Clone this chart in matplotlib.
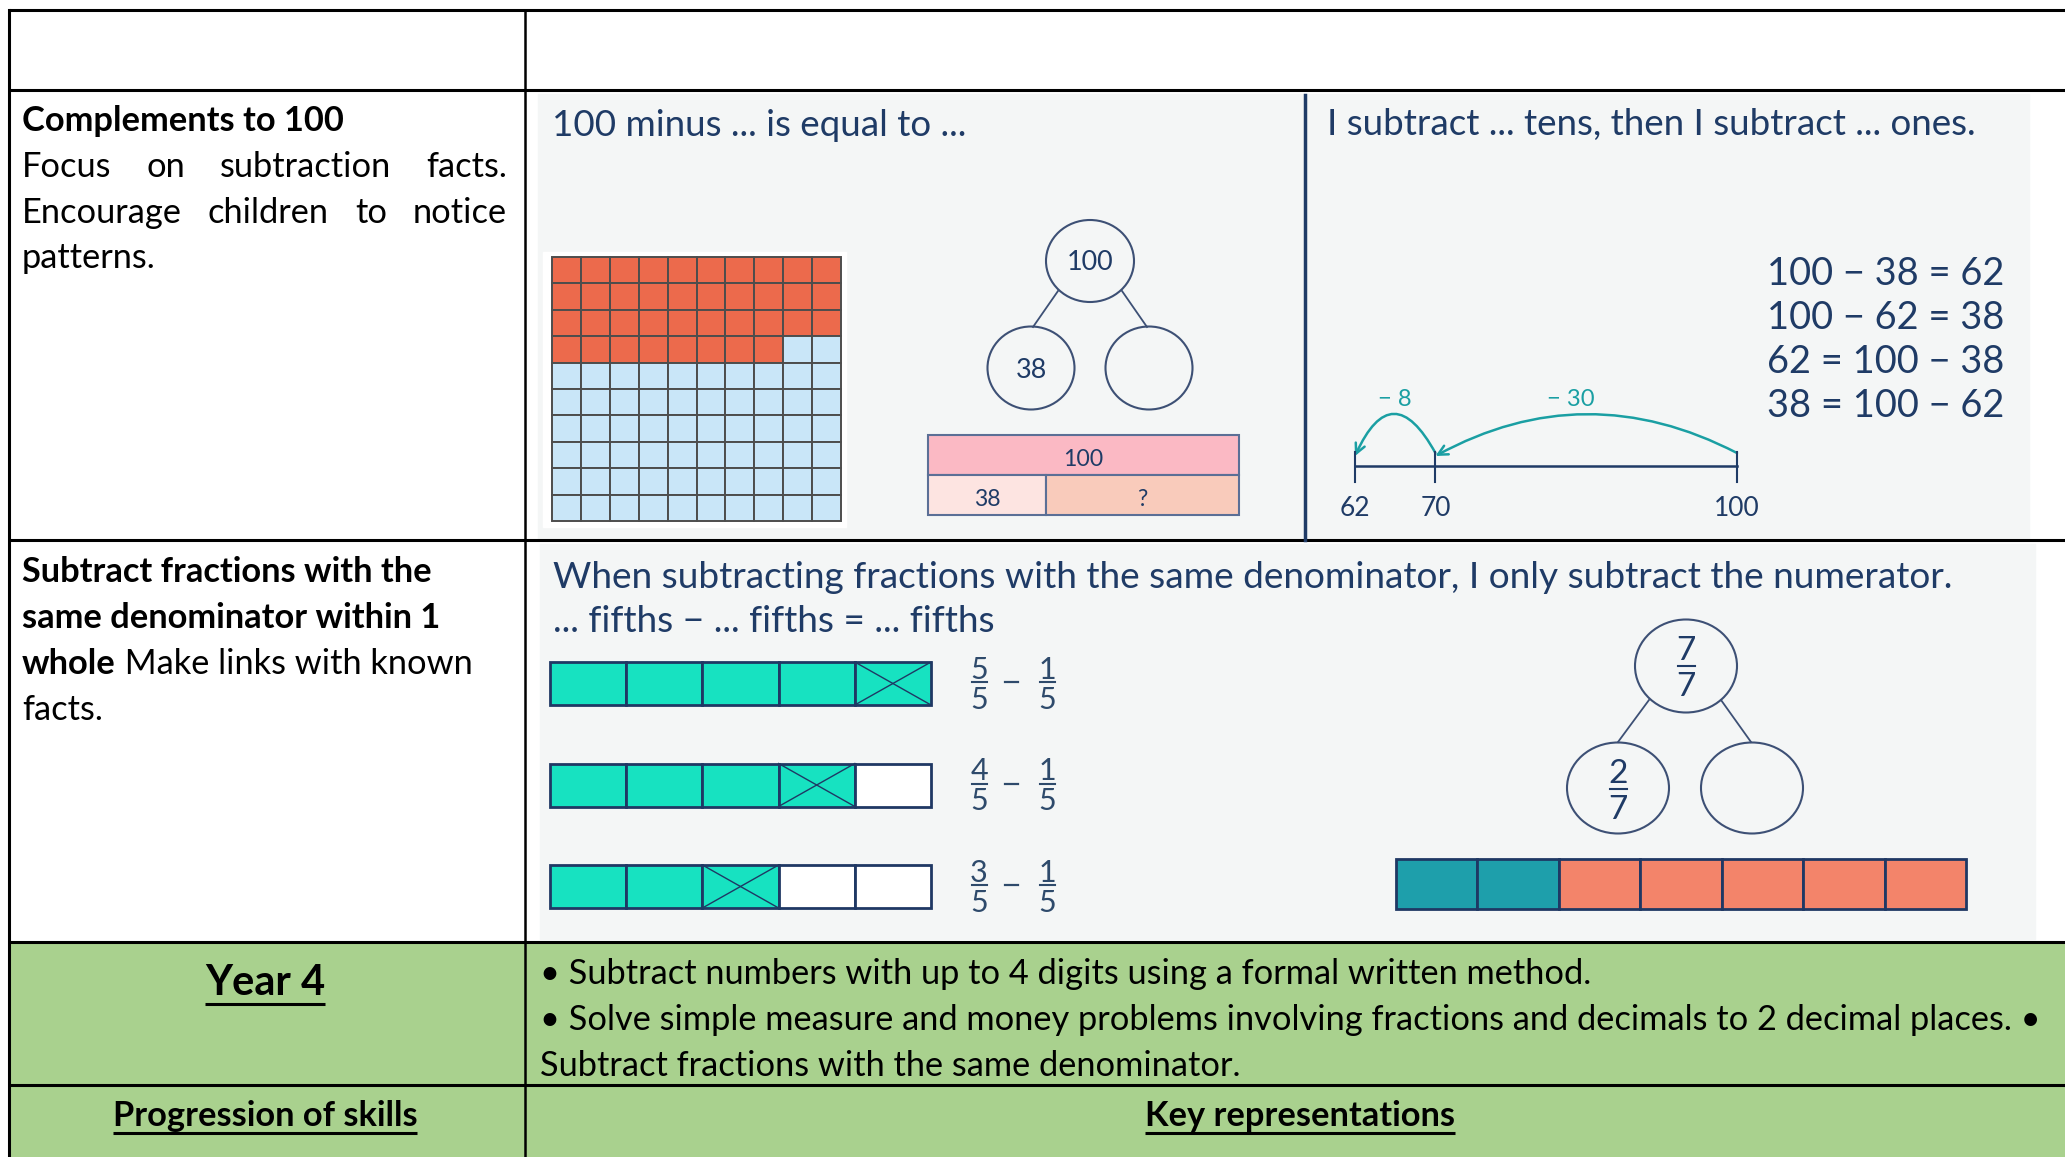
import matplotlib
matplotlib.use('Agg')
import matplotlib.pyplot as plt
from matplotlib.patches import Rectangle, Ellipse, FancyArrowPatch

# ---- chart content -------------------------------------------------------
hundred_total = 100
hundred_taken = 38
hundred_left = hundred_total - hundred_taken
line_marks = [62, 70, 100]
jump_labels = ['\u2212 8', '\u2212 30']
equations = ['100 \u2212 38 = 62', '100 \u2212 62 = 38',
             '62 = 100 \u2212 38', '38 = 100 \u2212 62']
frac_den = 5
frac_start = [5, 4, 3]
frac_take = 1
sevenths_total = 7
sevenths_part = 2

row2_title = 'Complements to 100'
row2_body = [['Focus', 'on', 'subtraction', 'facts.'],
             ['Encourage', 'children', 'to', 'notice']]
row2_last = 'patterns.'
row3_bold = ['Subtract fractions with the', 'same denominator within 1']
row3_mixed = ('whole', ' Make links with known')
row3_last = 'facts.'
head_left = '100 minus ... is equal to ...'
head_right = 'I subtract ... tens, then I subtract ... ones.'
frac_head1 = 'When subtracting fractions with the same denominator, I only subtract the numerator.'
frac_head2 = '... fifths \u2212 ... fifths = ... fifths'
year_title = 'Year 4'
year_points = ['\u2022 Subtract numbers with up to 4 digits using a formal written method.',
               '\u2022 Solve simple measure and money problems involving fractions and decimals to 2 decimal places. \u2022',
               'Subtract fractions with the same denominator.']
footer = ['Progression of skills', 'Key representations']

# ---- styling -------------------------------------------------------------
W, H, DPI = 2065, 1157, 100
FONT = ['Lato', 'DejaVu Sans']
NAVY = '#1f3b66'
EDGE = '#3d5075'
TEAL = '#1a9fa3'
GREY = '#f4f6f6'
GREEN = '#a9d18e'
DY = 3  # small nudge so text sits like the original

fig = plt.figure(figsize=(W / DPI, H / DPI), dpi=DPI)
ax = fig.add_axes([0, 0, 1, 1])
ax.set_xlim(0, W)
ax.set_ylim(H, 0)
ax.axis('off')
rend = fig.canvas.get_renderer()


def txt(x, y, s, size=20, ha='left', **kw):
    kw.setdefault('family', FONT)
    return ax.text(x, y + DY, s, ha=ha, va='center', fontsize=size, **kw)


def width(t):
    return t.get_window_extent(rend).width


def fit(x, y, s, w, ha='left', **kw):
    # pick the font size so the text spans the measured width
    t = txt(x, y, s, 20, ha, **kw)
    size = 20 * w / width(t)
    t.set_fontsize(size)
    return t, size


def justify(words, x0, x1, y, size, **kw):
    ts = [txt(0, y, w_, size, **kw) for w_ in words]
    ws = [width(t) for t in ts]
    gap = (x1 - x0 - sum(ws)) / (len(ws) - 1)
    x = x0
    for t, w_ in zip(ts, ws):
        t.set_x(x)
        x += w_ + gap


def underline(t, dy):
    bb = t.get_window_extent(rend)
    y = t.get_position()[1] + dy
    ax.plot([bb.x0, bb.x1], [y, y], color='black', lw=2.2, solid_capstyle='butt')


def frac(x, y, num, den, size, color, gap, barw):
    txt(x, y - gap, str(num), size, 'center', color=color)
    txt(x, y + gap, str(den), size, 'center', color=color)
    ax.plot([x - barw / 2, x + barw / 2], [y, y], color=color, lw=1.5)


# ---- table frame ---------------------------------------------------------
rows = [10, 90, 540, 942, 1085]
col_l, col_m = 9, 525
ax.add_patch(Rectangle((col_l, rows[3]), W - col_l, H - rows[3], color=GREEN, zorder=0))
ax.add_patch(Rectangle((538, 94), 1491, 446, color=GREY, zorder=0))
ax.add_patch(Rectangle((540, 544), 1495, 395, color=GREY, zorder=0))
for y in rows:
    ax.plot([col_l, W], [y, y], color='black', lw=2.2, solid_capstyle='butt')
for x in (col_l, col_m):
    ax.plot([x, x], [rows[0], H], color='black', lw=2.2 if x == col_l else 1.8)
ax.plot([1305, 1305], [95, 540], color=NAVY, lw=2.5)

# ---- left column text ----------------------------------------------------
t, body = fit(22, 118, row2_title, 322, weight='bold')
justify(row2_body[0], 22, 507, 164, body)
justify(row2_body[1], 22, 507, 210, body)
txt(22, 255, row2_last, body)
for i, s in enumerate(row3_bold):
    txt(22, 569 + 46 * i, s, body, weight='bold')
t = txt(22, 661, row3_mixed[0], body, weight='bold')
txt(22 + width(t), 661, row3_mixed[1], body)
txt(22, 707, row3_last, body)

# ---- complements to 100 --------------------------------------------------
_, hsize = fit(552, 122, head_left, 415, color=NAVY)
txt(1327, 122, head_right, hsize, color=NAVY)

# hundred square
gx, gy, cw, ch = 552, 257, 28.9, 26.4
ax.add_patch(Rectangle((gx - 9, gy - 5), cw * 10 + 14, ch * 10 + 11, color='white', zorder=1))
for i in range(hundred_total):
    r, c = divmod(i, 10)
    ax.add_patch(Rectangle((gx + c * cw, gy + r * ch), cw, ch,
                           facecolor='#ec6a4c' if i < hundred_taken else '#c9e6f8',
                           edgecolor='#4d4d4d', lw=1.4, zorder=2))

# part-whole model
top, kids = (1090, 261), [(1031, 368), (1149, 368)]
ax.add_patch(Ellipse(top, 88, 82, fill=False, ec=EDGE, lw=1.5))
for k in kids:
    ax.add_patch(Ellipse(k, 87, 83, fill=False, ec=EDGE, lw=1.5))
ax.plot([1058, 1033], [291, 327], color=EDGE, lw=1.3)
ax.plot([1122, 1147], [291, 327], color=EDGE, lw=1.3)
_, nsize = fit(1090, 259, str(hundred_total), 47, 'center', color=NAVY)
txt(1031, 368, str(hundred_taken), nsize, 'center', color=NAVY)

# bar model
bx, bw = 928, 311
split = bx + bw * hundred_taken / hundred_total
ax.add_patch(Rectangle((bx, 435), bw, 40, fc='#fbb9c4', ec='#5b6f96', lw=1.5))
ax.add_patch(Rectangle((bx, 475), split - bx, 40, fc='#fde4e1', ec='#5b6f96', lw=1.5))
ax.add_patch(Rectangle((split, 475), bx + bw - split, 40, fc='#f9cbbb', ec='#5b6f96', lw=1.5))
_, msize = fit(bx + bw / 2, 456, str(hundred_total), 40, 'center', color=NAVY)
txt((bx + split) / 2, 496, str(hundred_taken), msize, 'center', color=NAVY)
txt((split + bx + bw) / 2, 496, '?', msize, 'center', color=NAVY)

# number line
lx0, lx1 = 1355, 1737
def nx(v):
    return lx0 + (v - line_marks[0]) / (line_marks[-1] - line_marks[0]) * (lx1 - lx0)
ax.plot([lx0, lx1], [466, 466], color=NAVY, lw=1.8)
_, lsize = fit(nx(line_marks[-1]), 506, str(line_marks[-1]), 46, 'center', color=NAVY)
for v in line_marks:
    ax.plot([nx(v), nx(v)], [452, 482], color=NAVY, lw=1.5)
    if v != line_marks[-1]:
        txt(nx(v), 506, str(v), lsize, 'center', color=NAVY)
hops = [(nx(line_marks[2]), nx(line_marks[1])), (nx(line_marks[1]), nx(line_marks[0]))]
for (a, b), lab in zip(hops, jump_labels[::-1]):
    rad = 2 * 40 / (a - b)
    ax.add_patch(FancyArrowPatch((a, 453), (b, 456), connectionstyle=f'arc3,rad={rad}',
                                 arrowstyle='->,head_length=7,head_width=3.5', color=TEAL,
                                 lw=1.8, shrinkA=0, shrinkB=0))
txt((hops[1][0] + hops[1][1]) / 2, 396, jump_labels[0], lsize * 0.9, 'center', color=TEAL)
txt(1571, 396, jump_labels[1], lsize * 0.9, 'center', color=TEAL)

t, esize = fit(2004, 271, equations[0], 237, 'right', color=NAVY)
for i, s in enumerate(equations[1:], 1):
    txt(2004, 271 + 44 * i, s, esize, 'right', color=NAVY)

# ---- subtracting fractions -----------------------------------------------
_, fsize = fit(553, 574, frac_head1, 1405, color=NAVY)
txt(553, 619, frac_head2, fsize, color=NAVY)

fx, fw = 550, 381 / frac_den
for r, n in enumerate(frac_start):
    y0 = 662 + 101.5 * r
    for c in range(frac_den):
        ax.add_patch(Rectangle((fx + c * fw, y0), fw, 43,
                               fc='#17e2c1' if c < n else 'white', ec='#1f3864', lw=2))
    cx = fx + (n - frac_take) * fw
    ax.plot([cx, cx + fw], [y0, y0 + 43], color='#1f3864', lw=1)
    ax.plot([cx, cx + fw], [y0 + 43, y0], color='#1f3864', lw=1)
    yc = y0 + 20
    frac(979, yc, n, frac_den, 22, '#2e4a6b', 15, 15)
    ax.plot([1005, 1018], [yc, yc], color='#2e4a6b', lw=1.6)
    frac(1047, yc, frac_take, frac_den, 22, '#2e4a6b', 15, 15)

ax.add_patch(Ellipse((1686, 666), 102, 93, fill=False, ec=EDGE, lw=1.5))
for k in [(1618, 788), (1752, 788)]:
    ax.add_patch(Ellipse(k, 102, 91, fill=False, ec=EDGE, lw=1.5))
ax.plot([1649, 1618], [700, 742], color=EDGE, lw=1.3)
ax.plot([1721, 1751], [700, 742], color=EDGE, lw=1.3)
frac(1686, 666, sevenths_total, sevenths_total, 24, NAVY, 18, 17)
frac(1618, 789, sevenths_part, sevenths_total, 24, NAVY, 18, 17)

sx, sw = 1396, 570 / sevenths_total
for c in range(sevenths_total):
    ax.add_patch(Rectangle((sx + c * sw, 859), sw, 50,
                           fc='#1e9fab' if c < sevenths_part else '#f3846a', ec='#1f3864', lw=2))

# ---- year 4 rows -----------------------------------------------------------
t, _ = fit(265, 980, year_title, 120, 'center', weight='bold')
underline(t, 21)
_, ysize = fit(540, 971, year_points[0], 1054)
for i, s in enumerate(year_points[1:], 1):
    txt(540, 971 + 46 * i, s, ysize)
t, psize = fit(265, 1113, footer[0], 305, 'center', weight='bold')
underline(t, 17)
t = txt(1300, 1113, footer[1], psize, 'center', weight='bold')
underline(t, 17)

fig.savefig('out.png', dpi=DPI)
